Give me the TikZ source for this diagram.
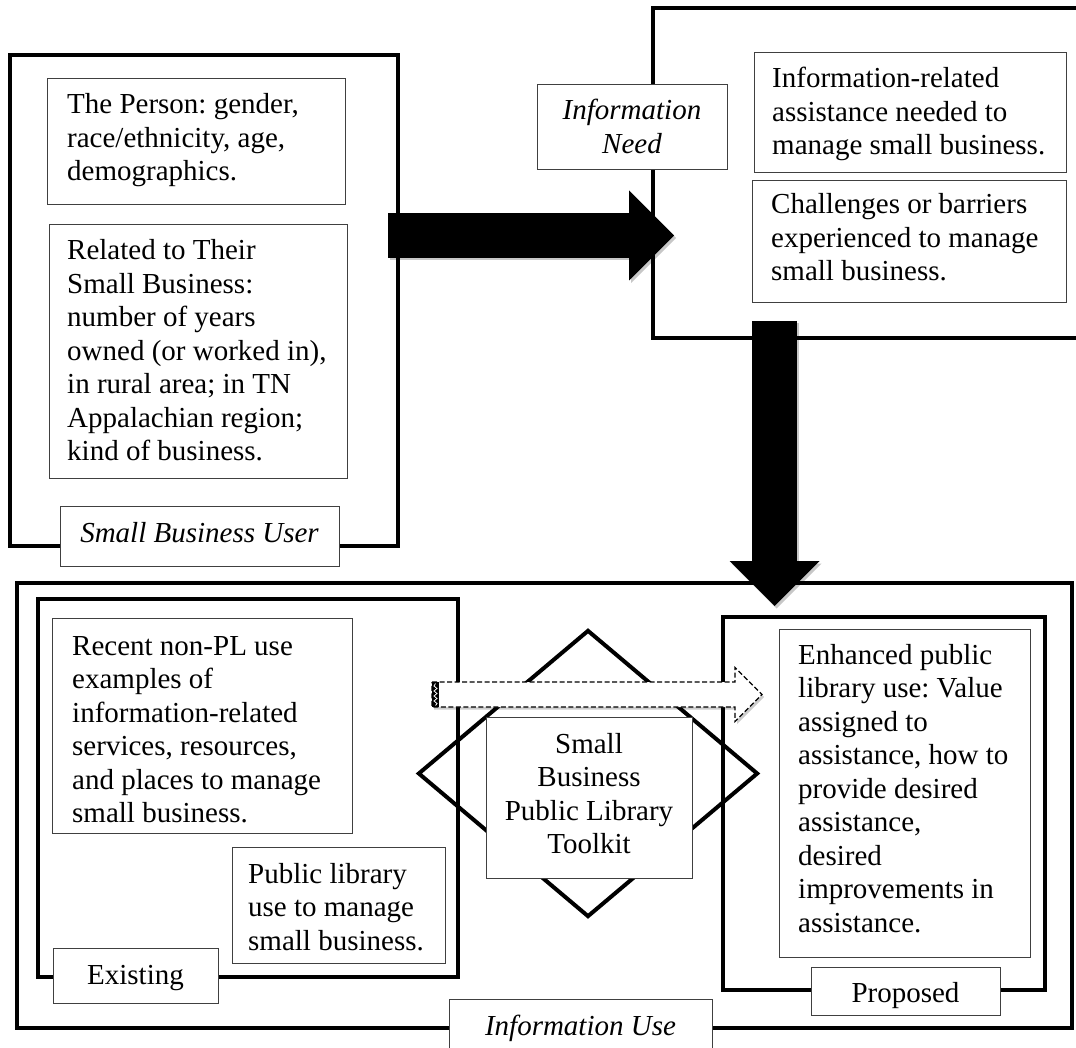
\documentclass[tikz,border=0pt]{standalone}
\usepackage{fontspec}
\setmainfont{Liberation Serif}
\usetikzlibrary{arrows.meta,fit,calc,shapes.geometric}
\newcommand\tl[1]{\begin{tabular}[t]{@{}l@{}}#1\end{tabular}}
\newcommand\tc[1]{\begin{tabular}[t]{@{}c@{}}#1\end{tabular}}
\frenchspacing
\begin{document}
\begin{tikzpicture}[x=1pt,y=-1pt,
  thickbox/.style={draw=black,line width=3.8pt,inner sep=0pt,rectangle},
  thinbox/.style={draw=black!75,line width=0.9pt,fill=white,inner sep=0pt,rectangle},
  txt/.style={inner sep=0pt,font=\fontsize{29}{33.5}\selectfont\frenchspacing},
  itxt/.style={txt,font=\fontsize{29}{33.5}\selectfont\frenchspacing\itshape},
  bigarrow/.style={line width=45pt,-{Triangle[length=45pt,width=90pt,line width=0pt]}},
  shadowarrow/.style={bigarrow,draw=black,opacity=0.22},
  dasharrow/.style={draw=black,line width=1.2pt,dash pattern=on 5pt off 2.5pt,fill=white}
]
\useasboundingbox (0,0) rectangle (1076,1048);
\clip (0,0) rectangle (1076,1048);

% containers
\node[thickbox,fit={(10,55) (398,546)}] (user) {};
\node[thickbox,fit={(653,8) (1110,338)}] (need) {};
\node[thickbox,fit={(17,583) (1072,1028)}] (use) {};
\node[thickbox,fit={(38,599) (458,977)}] (existing) {};
\node[thickbox,fit={(723,617) (1045,990)}] (proposed) {};

% diamond
\node[draw,diamond,line width=4pt,inner sep=0pt,minimum width=340pt,minimum height=287pt] (dia) at (588,773.5) {};

% top-left content
\node[thinbox,fit={(47,78) (345,204)}] (person) {};
\node[txt,anchor=base west] (personT) at (67,114) {\tl{The Person: gender,\\race/ethnicity, age,\\demographics.}};
\node[thinbox,fit={(49,224) (347,478)}] (related) {};
\node[txt,anchor=base west] (relatedT) at (67,260) {\tl{Related to Their\\Small Business:\\number of years\\owned (or worked in),\\in rural area; in TN\\Appalachian region;\\kind of business.}};
\node[thinbox,fit={(60,506) (339,566)}] (userL) {};
\node[itxt,anchor=base] (userLT) at (199.5,542) {Small Business User};

% top-right content
\node[thinbox,fit={(537,84) (727,169)}] (needL) {};
\node[itxt,anchor=base] (needLT) at (632,120) {\tc{Information\\Need}};
\node[thinbox,fit={(754,52) (1066,172)}] (assist) {};
\node[txt,anchor=base west] (assistT) at (772,88) {\tl{Information-related\\assistance needed to\\manage small business.}};
\node[thinbox,fit={(752,180) (1066,302)}] (chall) {};
\node[txt,anchor=base west] (challT) at (771,214) {\tl{Challenges or barriers\\experienced to manage\\small business.}};

% bottom content
\node[thinbox,fit={(52,618) (352,833)}] (recent) {};
\node[txt,anchor=base west] (recentT) at (72,655) {\tl{Recent non-PL use\\examples of\\information-related\\services, resources,\\and places to manage\\small business.}};
\node[thinbox,fit={(232,847) (445,963)}] (publib) {};
\node[txt,anchor=base west] (publibT) at (248,883) {\tl{Public library\\use to manage\\small business.}};
\node[thinbox,fit={(53,948) (218,1003)}] (existL) {};
\node[txt,anchor=base] (existLT) at (135.5,984) {Existing};
\node[thinbox,fit={(779,629) (1030,957)}] (enh) {};
\node[txt,anchor=base west] (enhT) at (798,664) {\tl{Enhanced public\\library use: Value\\assigned to\\assistance, how to\\provide desired\\assistance,\\desired\\improvements in\\assistance.}};
\node[thinbox,fit={(811,967) (1000,1015)}] (propL) {};
\node[txt,anchor=base] (propLT) at (905.5,1002) {Proposed};
\node[thinbox,fit={(449,999) (712,1075)}] (useL) {};
\node[itxt,anchor=base] (useLT) at (580.5,1035) {Information Use};
\node[thinbox,fit={(486,717) (692,878)}] (toolkit) {};
\node[txt,anchor=base] (toolkitT) at (589,753) {\tc{Small\\Business\\Public Library\\Toolkit}};

% arrows
\coordinate (ha1) at (388,235.5);
\coordinate (ha2) at (674,235.5);
\coordinate (va1) at (774.5,321);
\coordinate (va2) at (774.5,606);
\draw[shadowarrow] ($(ha1)+(2,2.5)$) -- ($(ha2)+(2,2.5)$);
\draw[bigarrow] (ha1) -- (ha2);
\draw[shadowarrow] ($(va1)+(2,2.5)$) -- ($(va2)+(2,2.5)$);
\draw[bigarrow] (va1) -- (va2);

\coordinate (ds) at (432,694.5);
\coordinate (de) at (762,694.5);
\fill[black,opacity=0.2] ($(ds)+(2,-10)$) -- ($(de)+(-25,-10)$) -- ($(de)+(-25,-24.5)$) -- ($(de)+(2,2.5)$)
  -- ($(de)+(-25,29.5)$) -- ($(de)+(-25,15)$) -- ($(ds)+(2,15)$) -- cycle;
\draw[dasharrow] ($(ds)+(0,-12.5)$) -- ($(de)+(-27,-12.5)$) -- ($(de)+(-27,-27)$) -- (de)
  -- ($(de)+(-27,27)$) -- ($(de)+(-27,12.5)$) -- ($(ds)+(0,12.5)$) -- cycle;
\fill[black] ($(ds)+(0,-12.5)$) rectangle ($(ds)+(7,12.5)$);
\draw[white,line width=0.8pt] ($(ds)+(3.5,-11)$) -- ++(-1.5,2.5) -- ++(3,2.5) -- ++(-3,2.5) -- ++(3,2.5)
  -- ++(-3,2.5) -- ++(3,2.5) -- ++(-3,2.5) -- ++(3,2.5) -- ++(-1.5,2);
\end{tikzpicture}
\end{document}
